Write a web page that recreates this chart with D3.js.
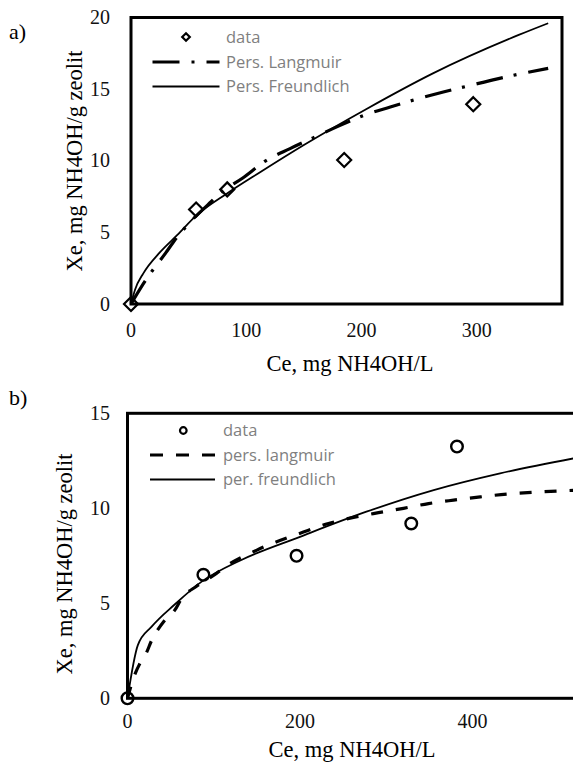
<!DOCTYPE html>
<html><head><meta charset="utf-8">
<script src="https://cdn.jsdelivr.net/npm/d3@7"></script>
<style>html,body{margin:0;padding:0;background:#fff;overflow:hidden}</style>
</head><body><svg id="c" width="573" height="764"></svg>
<script>
// ---------- Panel a data ----------
const aXTicks = [0, 100, 200, 300];
const aYTicks = [0, 5, 10, 15, 20];
const aData = [[0,0],[56.5,6.6],[83.5,8.0],[185,10.05],[297,13.95]];
const aLangmuir = [[0,0],[9,1.2],[16.5,2.1],[30,3.55],[37,4.35],[50,5.6],[69,7.1],[80,7.9],[97,8.8],[116,9.95],[138,10.85],[158,11.6],[181,12.45],[203,13.2],[225,13.75],[248,14.3],[271,14.8],[294,15.25],[317,15.7],[340,16.1],[362,16.45]];
const aFreundlich = [[0,0],[3.5,1.0],[10.7,2.14],[25,3.6],[40,4.8],[57,6.2],[83,7.7],[112,9.2],[150,11.1],[204,13.6],[262,16.1],[337,18.8],[362,19.6]];
const aLegend = ["data", "Pers. Langmuir", "Pers. Freundlich"];

// ---------- Panel b data ----------
const bXTicks = [0, 200, 400];
const bYTicks = [0, 5, 10, 15];
const bData = [[0,0],[88,6.5],[196,7.5],[329,9.2],[382,13.25]];
const bLangmuir = [[0,0],[8,1.2],[14,1.8],[22,2.4],[28,3.05],[35,3.6],[43,4.1],[55,4.65],[62,5.2],[80,5.9],[101,6.5],[111,6.85],[150,7.8],[204,8.75],[233,9.2],[262,9.52],[291,9.77],[320,10.0],[349,10.25],[378,10.43],[409,10.6],[440,10.75],[470,10.84],[498,10.91],[520,10.95]];
const bFreundlich = [[0,0],[12,2.8],[28,3.77],[55,4.95],[86,6.14],[132,7.28],[200,8.5],[277,9.82],[355,10.96],[432,11.84],[520,12.65]];
const bLegend = ["data", "pers. langmuir", "per. freundlich"];

const svg = d3.select("#c");
const SERIF = "'Liberation Serif','Times New Roman',serif";
const SANS = "'Open Sans','Noto Sans',sans-serif";

function panel(cfg) {
  const x = d3.scaleLinear().domain(cfg.xDom).range(cfg.xRange);
  const y = d3.scaleLinear().domain(cfg.yDom).range(cfg.yRange);
  const g = svg.append("g");

  g.append("text").attr("x", cfg.label[1]).attr("y", cfg.label[2])
    .attr("font-family", SERIF).attr("font-size", 22).text(cfg.label[0]);

  g.selectAll(".yt").data(cfg.yTicks).join("text")
    .attr("x", 110).attr("y", d => y(d)).attr("dy", "0.33em")
    .attr("text-anchor", "end").attr("font-family", SERIF).attr("font-size", 20)
    .attr("fill", "#111").text(d => d);
  g.selectAll(".xt").data(cfg.xTicks).join("text")
    .attr("x", d => x(d)).attr("y", cfg.xTickY)
    .attr("text-anchor", "middle").attr("font-family", SERIF).attr("font-size", 20)
    .attr("fill", "#111").text(d => d);

  g.append("text").attr("x", cfg.xTitle[0]).attr("y", cfg.xTitle[1])
    .attr("text-anchor", "middle").attr("font-family", SERIF).attr("font-size", 22.5)
    .text("Ce, mg NH4OH/L");
  g.append("text").attr("transform", `translate(${cfg.yTitle[0]},${cfg.yTitle[1]}) rotate(-90)`)
    .attr("text-anchor", "middle").attr("font-family", SERIF).attr("font-size", 22.5)
    .text("Xe, mg NH4OH/g zeolit");

  const [x0, x1] = cfg.xRange, [y0, y1] = cfg.yRange;
  g.append("rect").attr("x", x0).attr("y", y1).attr("width", x1 - x0).attr("height", y0 - y1)
    .attr("fill", "none").attr("stroke", "#000").attr("stroke-width", 3);

  const mk = (sel, r, sw) => {
    if (cfg.marker === "diamond") {
      sel.append("path").attr("d", `M0,${-r}L${r},0L0,${r}L${-r},0Z`)
        .attr("fill", "none").attr("stroke", "#000").attr("stroke-width", sw);
    } else {
      sel.append("circle").attr("r", r)
        .attr("fill", "none").attr("stroke", "#000").attr("stroke-width", sw);
    }
  };
  cfg.data.forEach(d => {
    const s = g.append("g").attr("transform", `translate(${x(d[0])},${y(d[1])})`);
    mk(s, cfg.mR, cfg.mSW);
  });

  const line = d3.line().x(d => x(d[0])).y(d => y(d[1])).curve(d3.curveMonotoneX);
  g.append("path").datum(cfg.lang).attr("d", line).attr("fill", "none")
    .attr("stroke", "#000").attr("stroke-width", 3.2).attr("stroke-dasharray", cfg.dash);
  g.append("path").datum(cfg.freu).attr("d", line).attr("fill", "none")
    .attr("stroke", "#000").attr("stroke-width", 1.8);

  const L = cfg.leg;
  const lm = g.append("g").attr("transform", `translate(${L.mx},${L.rows[0]})`);
  mk(lm, cfg.lmR, 2.2);
  g.append("line").attr("x1", L.lx0).attr("x2", L.lx1).attr("y1", L.rows[1]).attr("y2", L.rows[1])
    .attr("stroke", "#000").attr("stroke-width", 3.2).attr("stroke-dasharray", cfg.legDash);
  g.append("line").attr("x1", L.lx0).attr("x2", L.lx1).attr("y1", L.rows[2]).attr("y2", L.rows[2])
    .attr("stroke", "#000").attr("stroke-width", 1.8);
  g.selectAll(".lt").data(cfg.legend).join("text")
    .attr("x", L.tx).attr("y", (d, i) => L.rows[i]).attr("dy", "0.36em")
    .attr("font-family", SANS).attr("font-size", 16.5).attr("fill", "#7f7f7f").text(d => d);
}

panel({
  label: ["a)", 9, 39],
  xDom: [0, 374], xRange: [131, 562],
  yDom: [0, 20], yRange: [304, 17.5],
  xTicks: aXTicks, yTicks: aYTicks, xTickY: 337,
  xTitle: [350, 371], yTitle: [82, 161],
  data: aData, lang: aLangmuir, freu: aFreundlich, legend: aLegend,
  marker: "diamond", mR: 7, mSW: 2.2, lmR: 3.8,
  dash: "27,11,3,12", legDash: "27,12,3,12",
  leg: { mx: 186, rows: [37, 62, 86.5], lx0: 152.5, lx1: 219.5, tx: 226 }
});

panel({
  label: ["b)", 9, 405],
  xDom: [0, 600], xRange: [127.5, 645],
  yDom: [0, 15], yRange: [698.3, 413.3],
  xTicks: bXTicks, yTicks: bYTicks, xTickY: 728,
  xTitle: [352, 757], yTitle: [72, 564],
  data: bData, lang: bLangmuir, freu: bFreundlich, legend: bLegend,
  marker: "circle", mR: 5.8, mSW: 2.4, lmR: 3.3,
  dash: "12,13", legDash: "13,13",
  leg: { mx: 183.3, rows: [430.5, 455, 479.5], lx0: 150, lx1: 215, tx: 223 }
});
</script></body></html>
